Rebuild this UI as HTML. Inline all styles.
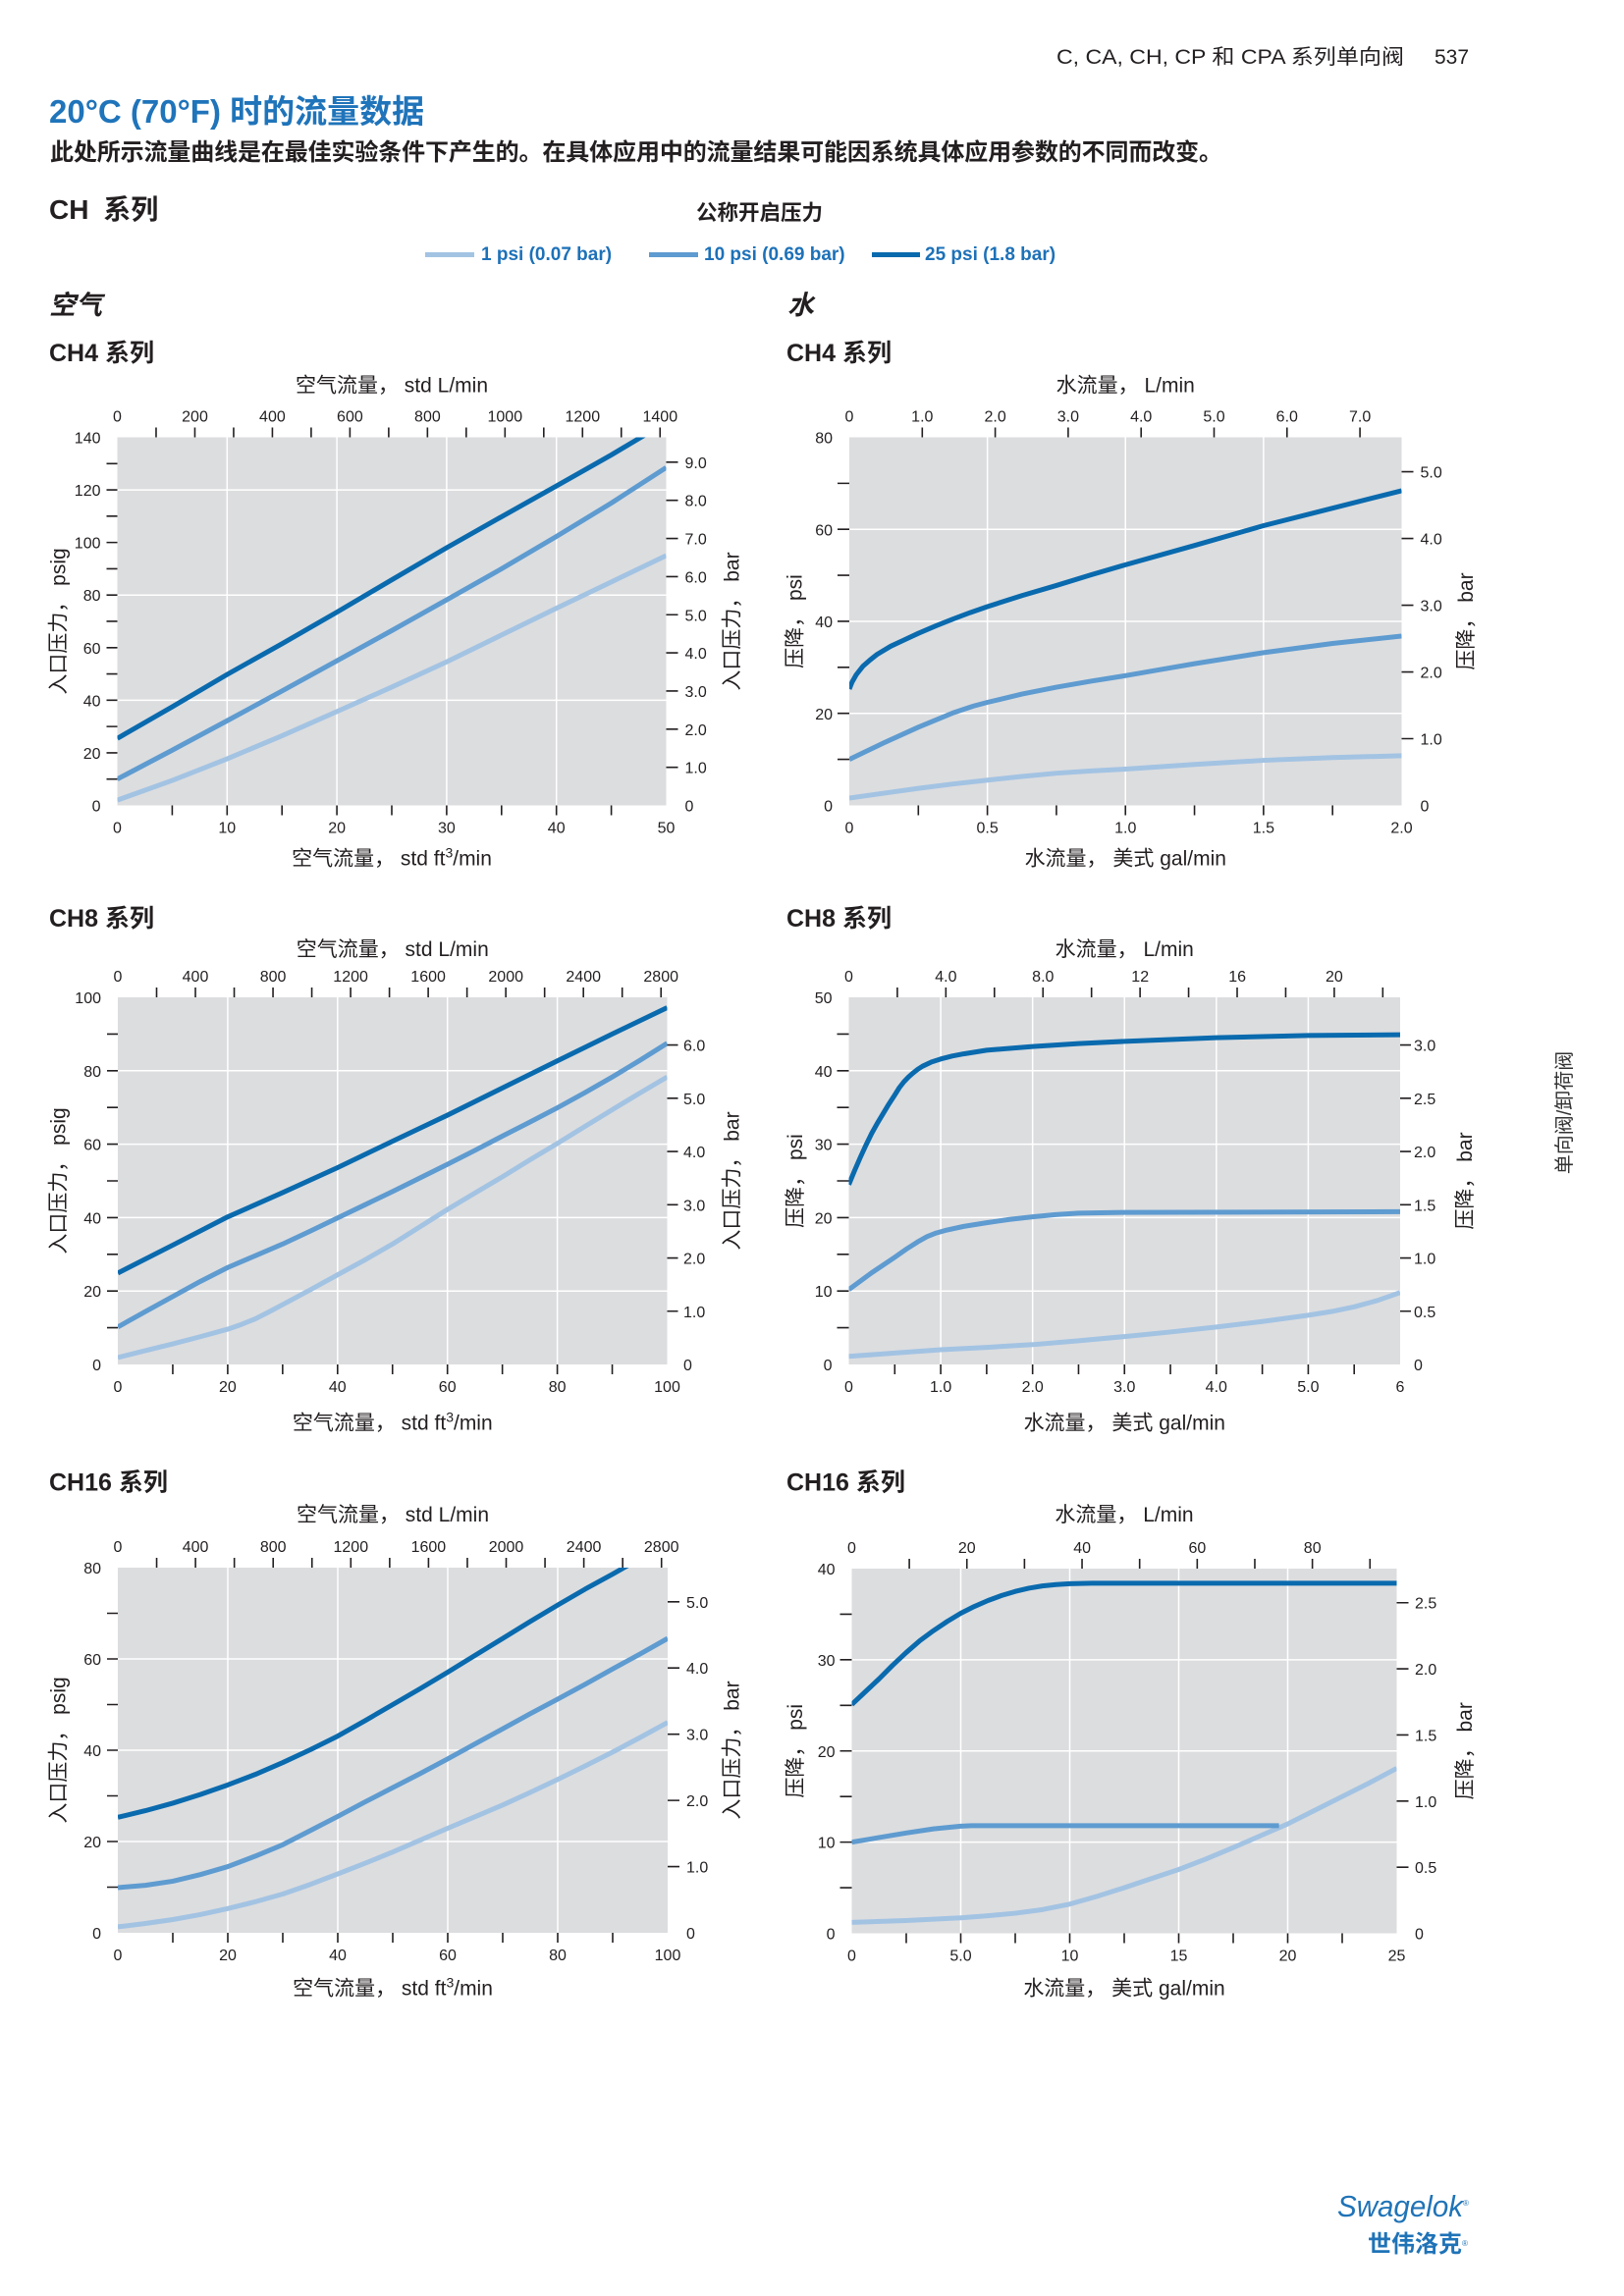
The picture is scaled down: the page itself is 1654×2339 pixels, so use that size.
<!DOCTYPE html>
<html><head><meta charset="utf-8">
<style>
html,body{margin:0;padding:0;background:#fff;}
svg{display:block}
text{font-family:"Liberation Sans","Noto Sans CJK SC",sans-serif;fill:#231f20}
.tk{font-size:16px}
.ax{font-size:21px}
.tt{font-size:25px;font-weight:bold}
.gr{stroke:#fff;stroke-width:1.5;fill:none}
.c1{stroke:#a3c3e3}.c2{stroke:#5e9bd0}.c3{stroke:#0a6aae}
polyline{fill:none;stroke-width:5;stroke-linejoin:round}
.tl{stroke:#231f20;fill:none}
.bg{fill:#dcdddf}
</style></head>
<body>
<svg width="1654" height="2339" viewBox="0 0 1654 2339" xmlns="http://www.w3.org/2000/svg">
<rect x="0" y="0" width="1654" height="2339" fill="#fff"/>

<!-- Header -->
<text x="1076" y="65" textLength="354" lengthAdjust="spacingAndGlyphs" style="font-size:21px">C, CA, CH, CP 和 CPA 系列单向阀</text>
<text x="1461" y="65" style="font-size:21px">537</text>
<text x="50" y="125" style="font-size:33px;font-weight:bold;fill:#1f74ba">20°C (70°F) 时的流量数据</text>
<text x="51" y="163" textLength="1194" lengthAdjust="spacing" style="font-size:24px;font-weight:bold">此处所示流量曲线是在最佳实验条件下产生的。在具体应用中的流量结果可能因系统具体应用参数的不同而改变。</text>
<text x="50" y="223" style="font-size:28px;font-weight:bold">CH <tspan dx="7">系列</tspan></text>
<text x="709" y="224" style="font-size:21.5px;font-weight:bold">公称开启压力</text>
<line x1="433" y1="259.5" x2="483" y2="259.5" stroke="#a3c3e3" stroke-width="5"/>
<text x="490" y="265" style="font-size:19px;font-weight:bold;fill:#1d71b8">1 psi (0.07 bar)</text>
<line x1="661" y1="259.5" x2="711" y2="259.5" stroke="#5e9bd0" stroke-width="5"/>
<text x="717" y="265" style="font-size:19px;font-weight:bold;fill:#1d71b8">10 psi (0.69 bar)</text>
<line x1="888" y1="259.5" x2="937" y2="259.5" stroke="#0a6aae" stroke-width="5"/>
<text x="942" y="265" style="font-size:19px;font-weight:bold;fill:#1d71b8">25 psi (1.8 bar)</text>
<text x="50" y="320" style="font-size:27px;font-weight:bold;font-style:italic">空气</text>
<text x="802" y="320" style="font-size:27px;font-weight:bold;font-style:italic">水</text>

<!-- ================= Chart A: CH4 air ================= -->
<svg x="119.5" y="445.5" width="559" height="375" viewBox="0 -140 50 140" preserveAspectRatio="none">
<rect class="bg" x="0" y="-140" width="50" height="140"/>
<path class="gr" vector-effect="non-scaling-stroke" d="M10 0V-140M20 0V-140M30 0V-140M40 0V-140M0 -40H50M0 -80H50M0 -120H50"/>
<polyline class="c1" vector-effect="non-scaling-stroke" points="0,-2 5,-9.5 10,-17.7 15,-26.5 20,-35.7 25,-45 30,-54.6 35,-64.8 40,-75 45,-85 50,-95"/>
<polyline class="c2" vector-effect="non-scaling-stroke" points="0,-10 5,-21 10,-32.2 15,-43.5 20,-55 25,-66.5 30,-78.2 35,-90 40,-102.3 45,-115 50,-128.5"/>
<polyline class="c3" vector-effect="non-scaling-stroke" points="0,-25.5 5,-37.5 10,-49.8 15,-61.5 20,-73.5 25,-85.8 30,-98 35,-109.8 40,-121.5 45,-133.3 48.5,-142"/>
</svg>
<path class="tl" stroke-width="11" stroke-dasharray="1.6 25.186" d="M114 794.5V471.5"/>
<path class="tl" stroke-width="10" stroke-dasharray="1.6 54.3" d="M174.6 825.5H623.4"/>
<path class="tl" stroke-width="10" stroke-dasharray="1.6 37.882" d="M158.18 440.5H673.1"/>
<path class="tl" stroke-width="12" stroke-dasharray="1.6 37.25" d="M684.5 782.45V470.05"/>
<text class="tt" x="50" y="368">CH4 系列</text>
<text class="ax" x="399" y="399.5" text-anchor="middle">空气流量， std L/min</text>
<g text-anchor="middle">
<text class="tk" x="119.5" y="429.5">0</text><text class="tk" x="198.5" y="429.5">200</text><text class="tk" x="277.4" y="429.5">400</text><text class="tk" x="356.4" y="429.5">600</text><text class="tk" x="435.4" y="429.5">800</text><text class="tk" x="514.3" y="429.5">1000</text><text class="tk" x="593.3" y="429.5">1200</text><text class="tk" x="672.3" y="429.5">1400</text>
<text class="tk" x="119.5" y="848.5">0</text><text class="tk" x="231.3" y="848.5">10</text><text class="tk" x="343.1" y="848.5">20</text><text class="tk" x="454.9" y="848.5">30</text><text class="tk" x="566.7" y="848.5">40</text><text class="tk" x="678.5" y="848.5">50</text>
</g>
<g text-anchor="end">
<text class="tk" x="102.5" y="826.5">0</text><text class="tk" x="102.5" y="772.9">20</text><text class="tk" x="102.5" y="719.4">40</text><text class="tk" x="102.5" y="665.8">60</text><text class="tk" x="102.5" y="612.2">80</text><text class="tk" x="102.5" y="558.6">100</text><text class="tk" x="102.5" y="505.1">120</text><text class="tk" x="102.5" y="451.5">140</text>
</g>
<g>
<text class="tk" x="697.5" y="826.5">0</text><text class="tk" x="697.5" y="787.65">1.0</text><text class="tk" x="697.5" y="748.8">2.0</text><text class="tk" x="697.5" y="709.95">3.0</text><text class="tk" x="697.5" y="671.1">4.0</text><text class="tk" x="697.5" y="632.25">5.0</text><text class="tk" x="697.5" y="593.4">6.0</text><text class="tk" x="697.5" y="554.55">7.0</text><text class="tk" x="697.5" y="515.7">8.0</text><text class="tk" x="697.5" y="476.85">9.0</text>
</g>
<text class="ax" x="399" y="881.5" text-anchor="middle">空气流量， std ft<tspan style="font-size:14px" dy="-8">3</tspan><tspan dy="8">/min</tspan></text>
<text class="ax" transform="translate(66.5 633) rotate(-90)" text-anchor="middle">入口压力， psig</text>
<text class="ax" transform="translate(752.5 633) rotate(-90)" text-anchor="middle">入口压力， bar</text>

<!-- ================= Chart B: CH4 water ================= -->
<svg x="865" y="445.5" width="562.5" height="375" viewBox="0 -80 2 80" preserveAspectRatio="none">
<rect class="bg" x="0" y="-80" width="2" height="80"/>
<path class="gr" vector-effect="non-scaling-stroke" d="M0.5 0V-80M1 0V-80M1.5 0V-80M0 -20H2M0 -40H2M0 -60H2"/>
<polyline class="c1" vector-effect="non-scaling-stroke" points="0,-1.6 0.125,-2.65 0.25,-3.7 0.375,-4.65 0.5,-5.5 0.625,-6.3 0.75,-7 0.875,-7.5 1,-7.9 1.25,-8.9 1.5,-9.8 1.75,-10.4 2,-10.8"/>
<polyline class="c2" vector-effect="non-scaling-stroke" points="0,-10 0.125,-13.6 0.25,-17 0.375,-20.1 0.45,-21.6 0.5,-22.4 0.625,-24.2 0.75,-25.7 0.875,-27 1,-28.2 1.125,-29.5 1.25,-30.8 1.375,-32 1.5,-33.2 1.75,-35.2 2,-36.8"/>
<polyline class="c3" vector-effect="non-scaling-stroke" points="0,-25.3 0.01,-26.8 0.025,-28.4 0.05,-30.3 0.075,-31.6 0.1,-32.8 0.15,-34.6 0.2,-36 0.25,-37.4 0.3125,-39 0.375,-40.5 0.4375,-41.9 0.5,-43.2 0.625,-45.6 0.75,-47.8 0.875,-50.1 1,-52.3 1.25,-56.5 1.5,-60.8 1.75,-64.6 2,-68.4"/>
</svg>
<path class="tl" stroke-width="12" stroke-dasharray="1.6 45.275" d="M859 774.4V491.6"/>
<path class="tl" stroke-width="10" stroke-dasharray="1.6 68.7125" d="M934.5 825.5H1358"/>
<path class="tl" stroke-width="10" stroke-dasharray="1.6 72.698" d="M938.5 440.5H1385.9"/>
<path class="tl" stroke-width="12" stroke-dasharray="1.6 66.387" d="M1433.5 753.3V479.8"/>
<text class="tt" x="801" y="368">CH4 系列</text>
<text class="ax" x="1146.25" y="399.5" text-anchor="middle">水流量， L/min</text>
<g text-anchor="middle">
<text class="tk" x="865" y="429.5">0</text><text class="tk" x="939.3" y="429.5">1.0</text><text class="tk" x="1013.6" y="429.5">2.0</text><text class="tk" x="1087.9" y="429.5">3.0</text><text class="tk" x="1162.2" y="429.5">4.0</text><text class="tk" x="1236.5" y="429.5">5.0</text><text class="tk" x="1310.8" y="429.5">6.0</text><text class="tk" x="1385.1" y="429.5">7.0</text>
<text class="tk" x="865" y="848.5">0</text><text class="tk" x="1005.6" y="848.5">0.5</text><text class="tk" x="1146.25" y="848.5">1.0</text><text class="tk" x="1286.9" y="848.5">1.5</text><text class="tk" x="1427.5" y="848.5">2.0</text>
</g>
<g text-anchor="end">
<text class="tk" x="848" y="826.5">0</text><text class="tk" x="848" y="732.75">20</text><text class="tk" x="848" y="639">40</text><text class="tk" x="848" y="545.25">60</text><text class="tk" x="848" y="451.5">80</text>
</g>
<g>
<text class="tk" x="1446.5" y="826.5">0</text><text class="tk" x="1446.5" y="758.5">1.0</text><text class="tk" x="1446.5" y="690.5">2.0</text><text class="tk" x="1446.5" y="622.5">3.0</text><text class="tk" x="1446.5" y="554.6">4.0</text><text class="tk" x="1446.5" y="486.6">5.0</text>
</g>
<text class="ax" x="1146.25" y="881.5" text-anchor="middle">水流量， 美式 gal/min</text>
<text class="ax" transform="translate(816.5 633) rotate(-90)" text-anchor="middle">压降， psi</text>
<text class="ax" transform="translate(1500 633) rotate(-90)" text-anchor="middle">压降， bar</text>

<!-- ================= Chart C: CH8 air ================= -->
<svg x="120" y="1016" width="559.5" height="374" viewBox="0 -100 100 100" preserveAspectRatio="none">
<rect class="bg" x="0" y="-100" width="100" height="100"/>
<path class="gr" vector-effect="non-scaling-stroke" d="M20 0V-100M40 0V-100M60 0V-100M80 0V-100M0 -20H100M0 -40H100M0 -60H100M0 -80H100"/>
<polyline class="c1" vector-effect="non-scaling-stroke" points="0,-1.9 5,-3.75 10,-5.6 15,-7.55 20,-9.6 22.5,-10.9 25,-12.4 27.5,-14.3 30,-16.3 35,-20.3 40,-24.4 45,-28.5 50,-32.8 55,-37.5 60,-42.2 65,-46.7 70,-51.1 75,-55.7 80,-60.2 85,-64.8 90,-69.4 95,-73.9 100,-78.3"/>
<polyline class="c2" vector-effect="non-scaling-stroke" points="0,-10.2 5,-14.4 10,-18.5 15,-22.6 20,-26.4 25,-29.6 30,-32.8 35,-36.3 40,-39.9 45,-43.5 50,-47.1 55,-50.8 60,-54.5 65,-58.3 70,-62.2 75,-66 80,-69.9 85,-74 90,-78.3 95,-82.8 100,-87.5"/>
<polyline class="c3" vector-effect="non-scaling-stroke" points="0,-24.9 10,-32.5 20,-40.2 25,-43.5 30,-46.8 40,-53.6 50,-60.8 60,-67.9 70,-75.3 80,-82.7 90,-90 100,-97.2"/>
</svg>
<path class="tl" stroke-width="11" stroke-dasharray="1.6 35.8" d="M114.5 1353.4V1052.6"/>
<path class="tl" stroke-width="10" stroke-dasharray="1.6 54.35" d="M175.15 1395H624.35"/>
<path class="tl" stroke-width="10" stroke-dasharray="1.6 37.917" d="M158.7 1011H674"/>
<path class="tl" stroke-width="11" stroke-dasharray="1.6 52.644" d="M685 1336.56V1063.7"/>
<text class="tt" x="50" y="944">CH8 系列</text>
<text class="ax" x="399.75" y="974" text-anchor="middle">空气流量， std L/min</text>
<g text-anchor="middle">
<text class="tk" x="120" y="1000">0</text><text class="tk" x="199" y="1000">400</text><text class="tk" x="278.1" y="1000">800</text><text class="tk" x="357.1" y="1000">1200</text><text class="tk" x="436.1" y="1000">1600</text><text class="tk" x="515.2" y="1000">2000</text><text class="tk" x="594.2" y="1000">2400</text><text class="tk" x="673.2" y="1000">2800</text>
<text class="tk" x="120" y="1418">0</text><text class="tk" x="231.9" y="1418">20</text><text class="tk" x="343.8" y="1418">40</text><text class="tk" x="455.7" y="1418">60</text><text class="tk" x="567.6" y="1418">80</text><text class="tk" x="679.5" y="1418">100</text>
</g>
<g text-anchor="end">
<text class="tk" x="103" y="1396">0</text><text class="tk" x="103" y="1321.2">20</text><text class="tk" x="103" y="1246.4">40</text><text class="tk" x="103" y="1171.6">60</text><text class="tk" x="103" y="1096.8">80</text><text class="tk" x="103" y="1022">100</text>
</g>
<g>
<text class="tk" x="696" y="1396">0</text><text class="tk" x="696" y="1341.8">1.0</text><text class="tk" x="696" y="1287.5">2.0</text><text class="tk" x="696" y="1233.3">3.0</text><text class="tk" x="696" y="1179">4.0</text><text class="tk" x="696" y="1124.8">5.0</text><text class="tk" x="696" y="1070.5">6.0</text>
</g>
<text class="ax" x="399.75" y="1456.5" text-anchor="middle">空气流量， std ft<tspan style="font-size:14px" dy="-8">3</tspan><tspan dy="8">/min</tspan></text>
<text class="ax" transform="translate(66.5 1203) rotate(-90)" text-anchor="middle">入口压力， psig</text>
<text class="ax" transform="translate(752.5 1203) rotate(-90)" text-anchor="middle">入口压力， bar</text>

<!-- ================= Chart D: CH8 water ================= -->
<svg x="864.5" y="1016" width="561.5" height="374" viewBox="0 -50 6 50" preserveAspectRatio="none">
<rect class="bg" x="0" y="-50" width="6" height="50"/>
<path class="gr" vector-effect="non-scaling-stroke" d="M1 0V-50M2 0V-50M3 0V-50M4 0V-50M5 0V-50M0 -10H6M0 -20H6M0 -30H6M0 -40H6"/>
<polyline class="c1" vector-effect="non-scaling-stroke" points="0,-1.1 0.5,-1.55 1,-2 1.5,-2.33 2,-2.7 2.5,-3.22 3,-3.8 3.5,-4.42 4,-5.1 4.5,-5.85 5,-6.7 5.25,-7.2 5.5,-7.85 5.75,-8.7 6,-9.8"/>
<polyline class="c2" vector-effect="non-scaling-stroke" points="0,-10.2 0.25,-12.5 0.5,-14.6 0.625,-15.7 0.75,-16.7 0.85,-17.4 0.95,-17.9 1.05,-18.25 1.25,-18.8 1.5,-19.3 1.75,-19.75 2,-20.1 2.25,-20.4 2.5,-20.6 3,-20.7 6,-20.8"/>
<polyline class="c3" vector-effect="non-scaling-stroke" points="0,-24.5 0.0625,-26.4 0.125,-28.2 0.1875,-29.9 0.25,-31.5 0.3125,-32.9 0.375,-34.2 0.4375,-35.5 0.5,-36.7 0.55,-37.7 0.6,-38.5 0.65,-39.15 0.7,-39.7 0.75,-40.2 0.8,-40.6 0.9,-41.2 1,-41.6 1.125,-42 1.25,-42.3 1.5,-42.8 1.75,-43.05 2,-43.3 2.5,-43.7 3,-44 4,-44.5 5,-44.8 6,-44.9"/>
</svg>
<path class="tl" stroke-width="12" stroke-dasharray="1.6 35.8" d="M858.5 1353.4V1052.6"/>
<path class="tl" stroke-width="10" stroke-dasharray="1.6 45.19" d="M910.5 1395H1380"/>
<path class="tl" stroke-width="10" stroke-dasharray="1.6 47.844" d="M913.1 1011H1409.2"/>
<path class="tl" stroke-width="11" stroke-dasharray="1.6 52.644" d="M1431.5 1336.56V1063.7"/>
<text class="tt" x="801" y="944">CH8 系列</text>
<text class="ax" x="1145.25" y="974" text-anchor="middle">水流量， L/min</text>
<g text-anchor="middle">
<text class="tk" x="864.5" y="1000">0</text><text class="tk" x="963.4" y="1000">4.0</text><text class="tk" x="1062.3" y="1000">8.0</text><text class="tk" x="1161.2" y="1000">12</text><text class="tk" x="1260.1" y="1000">16</text><text class="tk" x="1358.9" y="1000">20</text>
<text class="tk" x="864.5" y="1418">0</text><text class="tk" x="958.1" y="1418">1.0</text><text class="tk" x="1051.7" y="1418">2.0</text><text class="tk" x="1145.25" y="1418">3.0</text><text class="tk" x="1238.8" y="1418">4.0</text><text class="tk" x="1332.4" y="1418">5.0</text><text class="tk" x="1426" y="1418">6</text>
</g>
<g text-anchor="end">
<text class="tk" x="847.5" y="1396">0</text><text class="tk" x="847.5" y="1321.2">10</text><text class="tk" x="847.5" y="1246.4">20</text><text class="tk" x="847.5" y="1171.6">30</text><text class="tk" x="847.5" y="1096.8">40</text><text class="tk" x="847.5" y="1022">50</text>
</g>
<g>
<text class="tk" x="1440" y="1396">0</text><text class="tk" x="1440" y="1341.8">0.5</text><text class="tk" x="1440" y="1287.5">1.0</text><text class="tk" x="1440" y="1233.3">1.5</text><text class="tk" x="1440" y="1179">2.0</text><text class="tk" x="1440" y="1124.8">2.5</text><text class="tk" x="1440" y="1070.5">3.0</text>
</g>
<text class="ax" x="1145.25" y="1456.5" text-anchor="middle">水流量， 美式 gal/min</text>
<text class="ax" transform="translate(817 1203) rotate(-90)" text-anchor="middle">压降， psi</text>
<text class="ax" transform="translate(1499 1203) rotate(-90)" text-anchor="middle">压降， bar</text>

<!-- ================= Chart E: CH16 air ================= -->
<svg x="120" y="1597" width="560" height="372" viewBox="0 -80 100 80" preserveAspectRatio="none">
<rect class="bg" x="0" y="-80" width="100" height="80"/>
<path class="gr" vector-effect="non-scaling-stroke" d="M20 0V-80M40 0V-80M60 0V-80M80 0V-80M0 -20H100M0 -40H100M0 -60H100"/>
<polyline class="c1" vector-effect="non-scaling-stroke" points="0,-1.3 5,-2.05 10,-2.9 15,-4 20,-5.3 25,-6.8 30,-8.5 35,-10.6 40,-12.9 45,-15.25 50,-17.7 55,-20.3 60,-22.9 65,-25.45 70,-28 75,-30.75 80,-33.6 85,-36.55 90,-39.6 95,-42.8 100,-46.1"/>
<polyline class="c2" vector-effect="non-scaling-stroke" points="0,-9.9 5,-10.4 10,-11.3 15,-12.75 20,-14.5 25,-16.8 30,-19.3 35,-22.4 40,-25.5 45,-28.7 50,-31.8 55,-34.9 60,-38.1 65,-41.4 70,-44.7 75,-48 80,-51.2 85,-54.45 90,-57.8 95,-61.1 100,-64.5"/>
<polyline class="c3" vector-effect="non-scaling-stroke" points="0,-25.3 5,-26.75 10,-28.4 15,-30.3 20,-32.4 25,-34.7 30,-37.3 35,-40.1 40,-43.1 45,-46.5 50,-50 55,-53.5 60,-57.1 65,-60.8 70,-64.5 75,-68.2 80,-71.8 85,-75.3 90,-78.6 95,-82"/>
</svg>
<path class="tl" stroke-width="11" stroke-dasharray="1.6 44.9" d="M114.5 1923.3V1642.7"/>
<path class="tl" stroke-width="10" stroke-dasharray="1.6 54.4" d="M175.2 1974H624.8"/>
<path class="tl" stroke-width="10" stroke-dasharray="1.6 37.952" d="M158.75 1592H674.5"/>
<path class="tl" stroke-width="12" stroke-dasharray="1.6 65.843" d="M686 1902.36V1631"/>
<text class="tt" x="50" y="1518.5">CH16 系列</text>
<text class="ax" x="400" y="1550" text-anchor="middle">空气流量， std L/min</text>
<g text-anchor="middle">
<text class="tk" x="120" y="1581">0</text><text class="tk" x="199.1" y="1581">400</text><text class="tk" x="278.2" y="1581">800</text><text class="tk" x="357.3" y="1581">1200</text><text class="tk" x="436.4" y="1581">1600</text><text class="tk" x="515.5" y="1581">2000</text><text class="tk" x="594.6" y="1581">2400</text><text class="tk" x="673.7" y="1581">2800</text>
<text class="tk" x="120" y="1997">0</text><text class="tk" x="232" y="1997">20</text><text class="tk" x="344" y="1997">40</text><text class="tk" x="456" y="1997">60</text><text class="tk" x="568" y="1997">80</text><text class="tk" x="680" y="1997">100</text>
</g>
<g text-anchor="end">
<text class="tk" x="103" y="1975">0</text><text class="tk" x="103" y="1882">20</text><text class="tk" x="103" y="1789">40</text><text class="tk" x="103" y="1696">60</text><text class="tk" x="103" y="1603">80</text>
</g>
<g>
<text class="tk" x="699" y="1975">0</text><text class="tk" x="699" y="1907.6">1.0</text><text class="tk" x="699" y="1840.1">2.0</text><text class="tk" x="699" y="1772.7">3.0</text><text class="tk" x="699" y="1705.2">4.0</text><text class="tk" x="699" y="1637.8">5.0</text>
</g>
<text class="ax" x="400" y="2032.5" text-anchor="middle">空气流量， std ft<tspan style="font-size:14px" dy="-8">3</tspan><tspan dy="8">/min</tspan></text>
<text class="ax" transform="translate(66.5 1783) rotate(-90)" text-anchor="middle">入口压力， psig</text>
<text class="ax" transform="translate(752.5 1783) rotate(-90)" text-anchor="middle">入口压力， bar</text>

<!-- ================= Chart F: CH16 water ================= -->
<svg x="867.5" y="1598" width="555" height="371.5" viewBox="0 -40 25 40" preserveAspectRatio="none">
<rect class="bg" x="0" y="-40" width="25" height="40"/>
<path class="gr" vector-effect="non-scaling-stroke" d="M5 0V-40M10 0V-40M15 0V-40M20 0V-40M0 -10H25M0 -20H25M0 -30H25"/>
<polyline class="c1" vector-effect="non-scaling-stroke" points="0,-1.2 2.5,-1.4 5,-1.7 6.25,-1.92 7.5,-2.2 8.75,-2.6 10,-3.2 11.25,-4.05 12.5,-5 13.75,-6 15,-7 16.25,-8.15 17.5,-9.4 18.75,-10.7 20,-12 21.25,-13.5 22.5,-15 23.75,-16.5 25,-18.1"/>
<polyline class="c2" vector-effect="non-scaling-stroke" points="0,-10 2.5,-11 3.75,-11.45 5,-11.75 5.5,-11.8 19.6,-11.8"/>
<polyline class="c3" vector-effect="non-scaling-stroke" points="0,-25.1 0.625,-26.5 1.25,-27.9 1.875,-29.4 2.5,-30.8 3.125,-32.1 3.75,-33.2 4.375,-34.2 5,-35.1 5.625,-35.85 6.25,-36.5 6.875,-37.05 7.5,-37.5 8.125,-37.85 8.75,-38.1 9.375,-38.25 10,-38.35 11,-38.4 25,-38.4"/>
</svg>
<path class="tl" stroke-width="12" stroke-dasharray="1.6 44.84" d="M861.5 1923.86V1643.6"/>
<path class="tl" stroke-width="10" stroke-dasharray="1.6 53.9" d="M922.2 1974.5H1367.8"/>
<path class="tl" stroke-width="10" stroke-dasharray="1.6 57.046" d="M925.3 1593H1396.1"/>
<path class="tl" stroke-width="12" stroke-dasharray="1.6 65.752" d="M1428.5 1902.95V1631.9"/>
<text class="tt" x="801" y="1518.5">CH16 系列</text>
<text class="ax" x="1145" y="1550" text-anchor="middle">水流量， L/min</text>
<g text-anchor="middle">
<text class="tk" x="867.5" y="1582">0</text><text class="tk" x="984.8" y="1582">20</text><text class="tk" x="1102.1" y="1582">40</text><text class="tk" x="1219.4" y="1582">60</text><text class="tk" x="1336.7" y="1582">80</text>
<text class="tk" x="867.5" y="1997.5">0</text><text class="tk" x="978.5" y="1997.5">5.0</text><text class="tk" x="1089.5" y="1997.5">10</text><text class="tk" x="1200.5" y="1997.5">15</text><text class="tk" x="1311.5" y="1997.5">20</text><text class="tk" x="1422.5" y="1997.5">25</text>
</g>
<g text-anchor="end">
<text class="tk" x="850.5" y="1975.5">0</text><text class="tk" x="850.5" y="1882.6">10</text><text class="tk" x="850.5" y="1789.75">20</text><text class="tk" x="850.5" y="1696.9">30</text><text class="tk" x="850.5" y="1604">40</text>
</g>
<g>
<text class="tk" x="1441" y="1975.5">0</text><text class="tk" x="1441" y="1908.15">0.5</text><text class="tk" x="1441" y="1840.8">1.0</text><text class="tk" x="1441" y="1773.4">1.5</text><text class="tk" x="1441" y="1706.1">2.0</text><text class="tk" x="1441" y="1638.7">2.5</text>
</g>
<text class="ax" x="1145" y="2032.5" text-anchor="middle">水流量， 美式 gal/min</text>
<text class="ax" transform="translate(817 1783.75) rotate(-90)" text-anchor="middle">压降， psi</text>
<text class="ax" transform="translate(1499 1783.75) rotate(-90)" text-anchor="middle">压降， bar</text>

<!-- Side tab text -->
<text transform="translate(1600 1133.5) rotate(-90)" text-anchor="middle" style="font-size:20px;fill:#333">单向阀/卸荷阀</text>

<!-- Logo -->
<text x="1362" y="2258" textLength="128" lengthAdjust="spacingAndGlyphs" style="font-size:31px;font-style:italic;fill:#1f73b7">Swagelok</text>
<text x="1490" y="2247" style="font-size:8px;fill:#1f73b7">®</text>
<text x="1393" y="2294" style="font-size:24px;font-weight:bold;fill:#1f73b7">世伟洛克</text>
<text x="1489" y="2288" style="font-size:8px;fill:#1f73b7">®</text>
</svg>
</body></html>
